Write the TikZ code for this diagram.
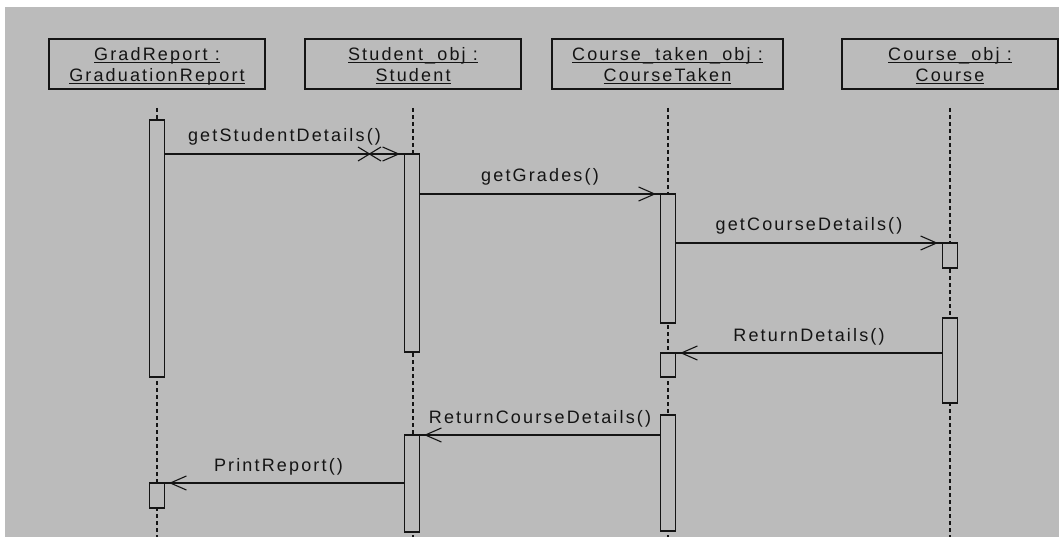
\documentclass[tikz,border=0pt]{standalone}
\usepackage{fontspec}
\setmainfont{Liberation Sans}[LetterSpace=12]
\usetikzlibrary{arrows.meta}
\definecolor{canvas}{RGB}{187,187,187}
\definecolor{ink}{RGB}{20,20,20}
% underline drawn just below the baseline, across the whole text
\newcommand\ulined[1]{\sbox0{#1}\rlap{\rule[-2.4pt]{\wd0}{1.3pt}}\usebox0}
\begin{document}
\begin{tikzpicture}[x=1pt,y=-1pt,
  objbox/.style={draw=ink, line width=1.7pt, fill=canvas, minimum height=50pt,
    inner sep=0pt, outer sep=0pt, align=center, text=ink,
    font=\fontsize{18}{21}\selectfont},
  lifeline/.style={draw=ink, line width=2pt, dash pattern=on 4pt off 3pt},
  act/.style={draw=ink, line width=1.7pt, fill=canvas, minimum width=15pt,
    inner sep=0pt, outer sep=0pt, anchor=north},
  msg/.style={draw=ink, line width=1.6pt,
    postaction={draw=ink, shorten >=4.5pt,
      -{Straight Barb[length=16pt,width=14pt,line width=1.1pt]}}},
  lbl/.style={midway, anchor=base, yshift=12pt, inner sep=0pt, text=ink,
    font=\fontsize{18}{21}\selectfont}]

% canvas
\fill[white] (0,0) rectangle (1059,537);
\fill[canvas] (5,7) rectangle (1059,537);
\useasboundingbox (0,0) rectangle (1059,537);
\coordinate (bottom) at (0,537);

% object heads
\node[objbox, minimum width=216pt] (gr) at (157,64)
  {\rule{0pt}{20pt}\ulined{GradReport :}\\\ulined{GraduationReport}\rule[-5pt]{0pt}{5pt}};
\node[objbox, minimum width=216pt] (st) at (413,64)
  {\rule{0pt}{20pt}\ulined{Student\_obj :}\\\ulined{Student}\rule[-5pt]{0pt}{5pt}};
\node[objbox, minimum width=231pt] (ct) at (667.5,64)
  {\rule{0pt}{20pt}\ulined{Course\_taken\_obj :}\\\ulined{CourseTaken}\rule[-5pt]{0pt}{5pt}};
\node[objbox, minimum width=216pt] (co) at (950,64)
  {\rule{0pt}{20pt}\ulined{Course\_obj :}\\\ulined{Course}\rule[-5pt]{0pt}{5pt}};

% lifelines
\foreach \o in {gr,st,ct,co}
  \draw[lifeline] ([yshift=-19pt]\o.south) -- (\o.south |- bottom);

% activation bars
\node[act, minimum height=257pt] (gr1) at (157,120) {};
\node[act, minimum height=198pt] (st1) at (412,154) {};
\node[act, minimum height=129pt] (ct1) at (668,194) {};
\node[act, minimum height=25pt]  (co1) at (950,243) {};
\node[act, minimum height=85pt]  (co2) at (950,318) {};
\node[act, minimum height=24pt]  (ct2) at (668,353) {};
\node[act, minimum height=116pt] (ct3) at (668,415) {};
\node[act, minimum height=97pt]  (st2) at (412,435) {};
\node[act, minimum height=25pt]  (gr2) at (157,483) {};

% messages
\draw[msg] (gr1.east |- st1.north west) -- node[lbl] {getStudentDetails()} (st1.north west);
\draw[draw=ink, line width=1.1pt]
  ([xshift=-46.5pt,yshift=7pt]st1.north west) -- ([xshift=-23.5pt,yshift=-7pt]st1.north west)
  ([xshift=-46.5pt,yshift=-7pt]st1.north west) -- ([xshift=-23.5pt,yshift=7pt]st1.north west);
\draw[msg] (st1.east |- ct1.north west) -- node[lbl] {getGrades()} (ct1.north west);
\draw[msg] (ct1.east |- co1.north west) -- node[lbl] {getCourseDetails()} (co1.north west);
\draw[msg] (co2.west |- ct2.north east) -- node[lbl] {ReturnDetails()} (ct2.north east);
\draw[msg] (ct3.west |- st2.north east) -- node[lbl] {ReturnCourseDetails()} (st2.north east);
\draw[msg] (st2.west |- gr2.north east) -- node[lbl, xshift=-6pt] {PrintReport()} (gr2.north east);
\end{tikzpicture}
\end{document}
